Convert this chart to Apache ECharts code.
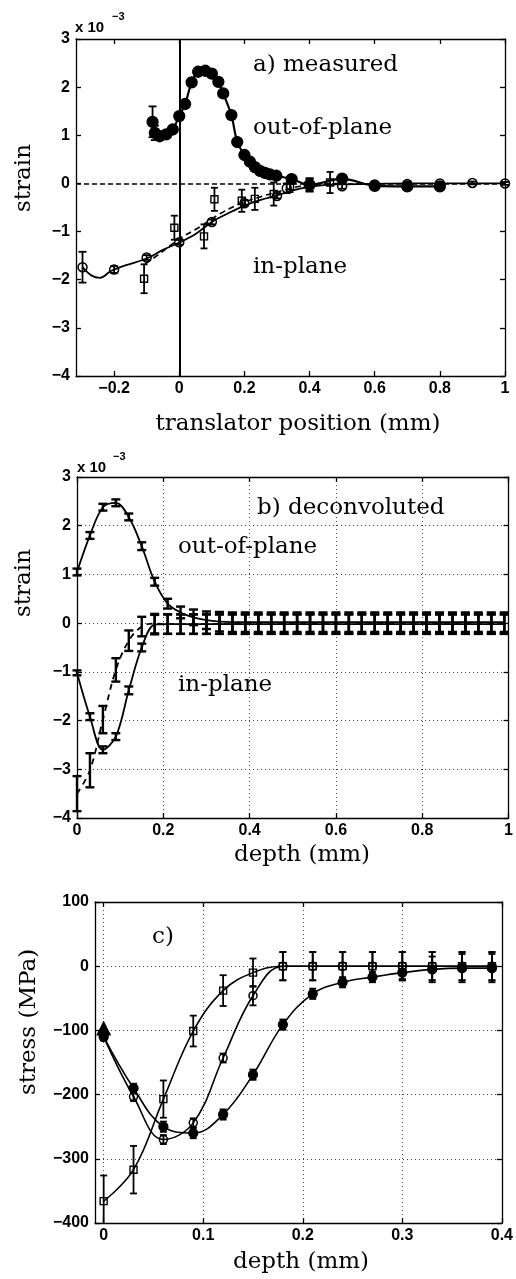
<!DOCTYPE html>
<html><head><meta charset="utf-8">
<script src="https://cdn.jsdelivr.net/npm/echarts@6/dist/echarts.min.js"></script>
<style>html,body{margin:0;padding:0;background:#fff}#c{width:516px;height:1279px}</style>
</head><body><div id="c"></div>
<script>
// ---------- Panel a) measured ----------
const A_xTicks = [-0.2, 0, 0.2, 0.4, 0.6, 0.8, 1];
const A_yTicks = [-4, -3, -2, -1, 0, 1, 2, 3];
const A_outX = [-0.082, -0.075, -0.06, -0.04, -0.02, 0, 0.018, 0.038, 0.058, 0.08, 0.10, 0.12, 0.135, 0.16, 0.178, 0.20, 0.217, 0.232, 0.248, 0.263, 0.278, 0.298, 0.345, 0.40, 0.50, 0.60, 0.70, 0.80];
const A_outY = [1.28, 1.05, 0.98, 1.02, 1.12, 1.40, 1.65, 2.10, 2.32, 2.34, 2.28, 2.11, 1.87, 1.42, 0.86, 0.59, 0.45, 0.34, 0.26, 0.22, 0.19, 0.16, 0.09, -0.03, 0.10, -0.05, -0.06, -0.06];
const A_outErr = [0.32, 0.15, 0.05, 0.05, 0.05, 0.05, 0.05, 0.05, 0.05, 0.05, 0.05, 0.05, 0.05, 0.05, 0.05, 0.05, 0.05, 0.05, 0.05, 0.05, 0.05, 0.05, 0.05, 0.14, 0.05, 0.03, 0.03, 0.03];
const A_inX = [-0.297, -0.2, -0.1, 0, 0.1, 0.2, 0.3, 0.33, 0.4, 0.5, 0.6, 0.7, 0.8, 0.9, 1.0];
const A_inY = [-1.74, -1.79, -1.54, -1.22, -0.80, -0.41, -0.26, -0.10, -0.03, -0.06, -0.02, -0.01, 0, 0.01, 0];
const A_inErr = [0.32, 0.07, 0.05, 0.05, 0.05, 0.06, 0.05, 0.10, 0.12, 0.05, 0.03, 0.03, 0.03, 0.03, 0.03];
const A_inFitX = [-0.297, -0.27, -0.243, -0.21, -0.16, -0.1, -0.05, 0, 0.05, 0.1, 0.15, 0.2, 0.25, 0.3, 0.37, 0.45, 0.5, 0.6, 0.7, 0.8, 0.9, 1.0];
const A_inFitY = [-1.74, -1.91, -1.96, -1.82, -1.69, -1.56, -1.38, -1.23, -1.05, -0.80, -0.62, -0.46, -0.34, -0.25, -0.11, -0.03, -0.02, -0.01, 0, 0, 0, 0];
const A_sqX = [-0.108, -0.015, 0.076, 0.108, 0.192, 0.232, 0.29, 0.34, 0.463];
const A_sqY = [-1.98, -0.92, -1.10, -0.33, -0.36, -0.32, -0.22, -0.06, 0.02];
const A_sqErr = [0.30, 0.25, 0.25, 0.24, 0.23, 0.23, 0.24, 0.12, 0.22];
const A_sqFitX = [-0.105, -0.06, 0, 0.064, 0.125, 0.187, 0.248, 0.3, 0.37, 0.45, 0.5];
const A_sqFitY = [-1.67, -1.46, -1.15, -0.90, -0.63, -0.42, -0.28, -0.18, -0.06, 0, 0];

// ---------- Panel b) deconvoluted ----------
const B_xTicks = [0, 0.2, 0.4, 0.6, 0.8, 1];
const B_yTicks = [-4, -3, -2, -1, 0, 1, 2, 3];
const B_x = [0, 0.03, 0.06, 0.09, 0.12, 0.15, 0.18, 0.21, 0.24, 0.27, 0.30, 0.33, 0.36, 0.39, 0.42, 0.45, 0.48, 0.51, 0.54, 0.57, 0.60, 0.63, 0.66, 0.69, 0.72, 0.75, 0.78, 0.81, 0.84, 0.87, 0.90, 0.93, 0.96, 0.99];
const B_out = [1.05, 1.80, 2.38, 2.47, 2.18, 1.58, 0.85, 0.40, 0.22, 0.12, 0.06, 0.03, 0.02, 0.02, 0.02, 0.02, 0.02, 0.02, 0.02, 0.02, 0.02, 0.02, 0.02, 0.02, 0.02, 0.02, 0.02, 0.02, 0.02, 0.02, 0.02, 0.02, 0.02, 0.02];
const B_outErr = [0.07, 0.07, 0.07, 0.07, 0.07, 0.08, 0.08, 0.10, 0.12, 0.16, 0.18, 0.2, 0.2, 0.2, 0.2, 0.2, 0.2, 0.2, 0.2, 0.2, 0.2, 0.2, 0.2, 0.2, 0.2, 0.2, 0.2, 0.2, 0.2, 0.2, 0.2, 0.2, 0.2, 0.2];
const B_inS = [-1.02, -1.92, -2.60, -2.33, -1.38, -0.50, -0.03, -0.02, -0.02, -0.02, -0.02, -0.02, -0.02, -0.02, -0.02, -0.02, -0.02, -0.02, -0.02, -0.02, -0.02, -0.02, -0.02, -0.02, -0.02, -0.02, -0.02, -0.02, -0.02, -0.02, -0.02, -0.02, -0.02, -0.02];
const B_inSErr = [0.05, 0.07, 0.07, 0.07, 0.08, 0.08, 0.2, 0.2, 0.2, 0.2, 0.2, 0.2, 0.2, 0.2, 0.2, 0.2, 0.2, 0.2, 0.2, 0.2, 0.2, 0.2, 0.2, 0.2, 0.2, 0.2, 0.2, 0.2, 0.2, 0.2, 0.2, 0.2, 0.2, 0.2];
const B_inD = [-3.50, -3.02, -1.98, -0.96, -0.36, -0.07, -0.01, -0.02, -0.02, -0.02, -0.02, -0.02, -0.02, -0.02, -0.02, -0.02, -0.02, -0.02, -0.02, -0.02, -0.02, -0.02, -0.02, -0.02, -0.02, -0.02, -0.02, -0.02, -0.02, -0.02, -0.02, -0.02, -0.02, -0.02];
const B_inDErr = [0.36, 0.35, 0.28, 0.24, 0.21, 0.2, 0.2, 0.2, 0.2, 0.2, 0.2, 0.2, 0.2, 0.2, 0.2, 0.2, 0.2, 0.2, 0.2, 0.2, 0.2, 0.2, 0.2, 0.2, 0.2, 0.2, 0.2, 0.2, 0.2, 0.2, 0.2, 0.2, 0.2, 0.2];

// ---------- Panel c) stress ----------
const C_xTicks = [0, 0.1, 0.2, 0.3, 0.4];
const C_yTicks = [-400, -300, -200, -100, 0, 100];
const C_x = [0, 0.03, 0.06, 0.09, 0.12, 0.15, 0.18, 0.21, 0.24, 0.27, 0.30, 0.33, 0.36, 0.39];
const C_sq = [-366, -317, -207, -101, -38, -10, 0, 0, 0, 0, 0, 0, 0, 0];
const C_sqErr = [40, 37, 29, 24, 24, 22, 22, 22, 22, 22, 22, 22, 22, 22];
const C_circ = [-110, -203, -270, -244, -143, -46, 0, 0, 0, 0, 0, 0, 0, 0];
const C_circErr = [5, 7, 7, 7, 7, 15, 22, 22, 22, 22, 22, 22, 22, 22];
const C_fill = [-110, -190, -250, -260, -231, -169, -91, -43, -25, -17, -10, -5, -3, -3];
const C_fillErr = [6, 7, 8, 8, 8, 8, 8, 8, 8, 8, 10, 20, 22, 22];
const C_triX = [0];
const C_triY = [-97];

// ---------- helpers ----------
const SERIF = '"DejaVu Serif", serif';
const SANS = '"Liberation Sans", Arial, sans-serif';
const pairs = (xs, ys) => xs.map((x, i) => [x, ys[i]]);
const triples = (xs, ys, es) => xs.map((x, i) => [x, ys[i], es[i]]);
const fmt = v => (v < 0 ? '\u2212' + String(+(-v).toFixed(6)) : String(+v.toFixed(6)));

function axisPair(dir, gi, min, max, ticks, showGrid) {
  const base = {
    type: 'value', gridIndex: gi, min, max,
    axisLine: { show: true, onZero: false, lineStyle: { color: '#000', width: 1.3 } },
    axisTick: { show: true, inside: true, length: 5, customValues: ticks, lineStyle: { color: '#000', width: 1.3 } },
    axisPointer: { show: false }
  };
  const main = Object.assign({}, base, {
    position: dir === 'x' ? 'bottom' : 'left',
    axisLabel: { show: true, customValues: ticks, formatter: fmt, color: '#000', fontFamily: SANS, fontWeight: 'bold', fontSize: 16, margin: dir === 'x' ? 5 : 6 },
    splitLine: { show: showGrid, lineStyle: { color: '#444', type: [1, 3], width: 1 } }
  });
  const mirror = Object.assign({}, base, {
    position: dir === 'x' ? 'top' : 'right',
    axisLabel: { show: false },
    splitLine: { show: false }
  });
  return [main, mirror];
}

function errSeries(xi, yi, data, cap, lw) {
  return {
    type: 'custom', xAxisIndex: xi, yAxisIndex: yi, data, z: 4, silent: true,
    encode: { x: 0, y: 1 },
    renderItem: (params, api) => {
      const cs = params.coordSys;
      const x = api.value(0), y = api.value(1), e = api.value(2);
      const p1 = api.coord([x, y + e]), p2 = api.coord([x, y - e]);
      const top = Math.max(p1[1], cs.y), bot = Math.min(p2[1], cs.y + cs.height);
      const st = { stroke: '#000', lineWidth: lw };
      const ch = [{ type: 'line', shape: { x1: p1[0], y1: top, x2: p1[0], y2: bot }, style: st }];
      const hw = cap / 2;
      if (p1[1] >= cs.y) ch.push({ type: 'line', shape: { x1: p1[0] - hw, y1: p1[1], x2: p1[0] + hw, y2: p1[1] }, style: st });
      if (p2[1] <= cs.y + cs.height) ch.push({ type: 'line', shape: { x1: p2[0] - hw, y1: p2[1], x2: p2[0] + hw, y2: p2[1] }, style: st });
      return { type: 'group', children: ch };
    }
  };
}

function lineS(xi, yi, data, o) {
  return {
    type: 'line', xAxisIndex: xi, yAxisIndex: yi, data, silent: true, clip: true,
    symbol: o.symbol || 'none', symbolSize: o.size || 8, smooth: o.smooth === undefined ? 0.35 : o.smooth,
    showAllSymbol: true, z: o.z || 3,
    lineStyle: { color: '#000', width: o.lw === undefined ? 1.6 : o.lw, type: o.dash || 'solid', opacity: o.lw === 0 ? 0 : 1 },
    itemStyle: { color: o.fill || '#000', borderColor: '#000', borderWidth: o.bw === undefined ? 1.3 : o.bw },
    markLine: o.markLine
  };
}

const HOLLOW = 'rgba(0,0,0,0)';

const xA = [].concat(
  axisPair('x', 0, -0.317, 1, A_xTicks, false),
  axisPair('x', 1, 0, 1, B_xTicks, true),
  axisPair('x', 2, -0.0087, 0.4, C_xTicks, true)
);
const yA = [].concat(
  axisPair('y', 0, -4, 3, A_yTicks, false),
  axisPair('y', 1, -4, 3, B_yTicks, true),
  axisPair('y', 2, -400, 100, C_yTicks, true)
);

const series = [
  // panel a
  lineS(0, 0, pairs(A_inFitX, A_inFitY), { z: 2, lw: 1.8, markLine: {
      silent: true, symbol: 'none', label: { show: false }, animation: false,
      data: [
        { xAxis: 0, lineStyle: { color: '#000', width: 2, type: 'solid' } },
        { yAxis: 0, lineStyle: { color: '#000', width: 1.5, type: [5, 3] } }
      ] } }),
  lineS(0, 0, pairs(A_sqFitX, A_sqFitY), { z: 2, dash: [6, 4], lw: 1.6 }),
  errSeries(0, 0, triples(A_inX, A_inY, A_inErr), 8, 1.8),
  errSeries(0, 0, triples(A_sqX, A_sqY, A_sqErr), 7, 1.8),
  errSeries(0, 0, triples(A_outX, A_outY, A_outErr), 8, 1.8),
  lineS(0, 0, pairs(A_inX, A_inY), { lw: 0, symbol: 'circle', size: 9, fill: HOLLOW, bw: 1.5, z: 5 }),
  lineS(0, 0, pairs(A_sqX, A_sqY), { lw: 0, symbol: 'rect', size: 7, fill: HOLLOW, bw: 1.4, z: 5 }),
  lineS(0, 0, pairs(A_outX, A_outY), { symbol: 'circle', size: 11, fill: '#000', lw: 2.2, z: 6, smooth: 0.3 }),
  // panel b
  lineS(2, 2, pairs(B_x, B_out), { lw: 1.8 }),
  lineS(2, 2, pairs(B_x, B_inS), { lw: 1.8 }),
  lineS(2, 2, pairs(B_x, B_inD), { lw: 1.8, dash: [6, 5] }),
  errSeries(2, 2, triples(B_x, B_out, B_outErr), 9, 2.4),
  errSeries(2, 2, triples(B_x, B_inS, B_inSErr), 9, 2.4),
  errSeries(2, 2, triples(B_x, B_inD, B_inDErr), 9, 2.4),
  // panel c
  errSeries(4, 4, triples(C_x, C_sq, C_sqErr), 7, 1.8),
  errSeries(4, 4, triples(C_x, C_circ, C_circErr), 7, 1.8),
  errSeries(4, 4, triples(C_x, C_fill, C_fillErr), 7, 1.8),
  lineS(4, 4, pairs(C_x, C_sq), { symbol: 'rect', size: 7, fill: HOLLOW, bw: 1.4, lw: 1.6, smooth: 0.4, z: 5 }),
  lineS(4, 4, pairs(C_x, C_circ), { symbol: 'circle', size: 8, fill: HOLLOW, bw: 1.5, lw: 1.6, smooth: 0.4, z: 5 }),
  lineS(4, 4, pairs(C_x, C_fill), { symbol: 'circle', size: 9, fill: '#000', lw: 1.6, smooth: 0.4, z: 6 }),
  lineS(4, 4, pairs(C_triX, C_triY), { symbol: 'triangle', size: 13, fill: '#000', lw: 0, z: 7 })
];

function txt(text, x, y, size, opts) {
  opts = opts || {};
  return {
    type: 'text', x, y, rotation: opts.rot || 0, silent: true, z: 100,
    style: { text, font: (opts.weight || 'normal') + ' ' + size + 'px ' + (opts.family || SERIF), fill: '#000',
      align: opts.align || 'left', verticalAlign: 'middle' }
  };
}

const graphic = [
  txt('x 10', 75, 28, 15, { family: SANS, weight: 'bold' }),
  txt('\u22123', 112, 17, 11, { family: SANS, weight: 'bold' }),
  txt('a) measured', 253, 65, 23),
  txt('out-of-plane', 253, 128, 23),
  txt('in-plane', 253, 267, 23),
  txt('translator position (mm)', 298, 424, 23, { align: 'center' }),
  txt('strain', 24, 178, 23, { align: 'center', rot: Math.PI / 2 }),

  txt('x 10', 77, 468, 15, { family: SANS, weight: 'bold' }),
  txt('\u22123', 113, 457, 11, { family: SANS, weight: 'bold' }),
  txt('b) deconvoluted', 257, 508, 23),
  txt('out-of-plane', 178, 547, 23),
  txt('in-plane', 178, 685, 23),
  txt('depth (mm)', 302, 855, 23, { align: 'center' }),
  txt('strain', 24, 583, 23, { align: 'center', rot: Math.PI / 2 }),

  txt('c)', 152, 937, 23),
  txt('depth (mm)', 301, 1262, 23, { align: 'center' }),
  txt('stress (MPa)', 29, 1022, 23, { align: 'center', rot: Math.PI / 2 })
];

const chart = echarts.init(document.getElementById('c'), null, { renderer: 'canvas' });
chart.setOption({
  animation: false,
  backgroundColor: '#fff',
  grid: [
    { left: 76, top: 39, width: 429, height: 337 },
    { left: 77, top: 477, width: 434, height: 341 },
    { left: 95, top: 902, width: 408, height: 321 }
  ],
  xAxis: xA,
  yAxis: yA,
  series,
  graphic
});
</script></body></html>
